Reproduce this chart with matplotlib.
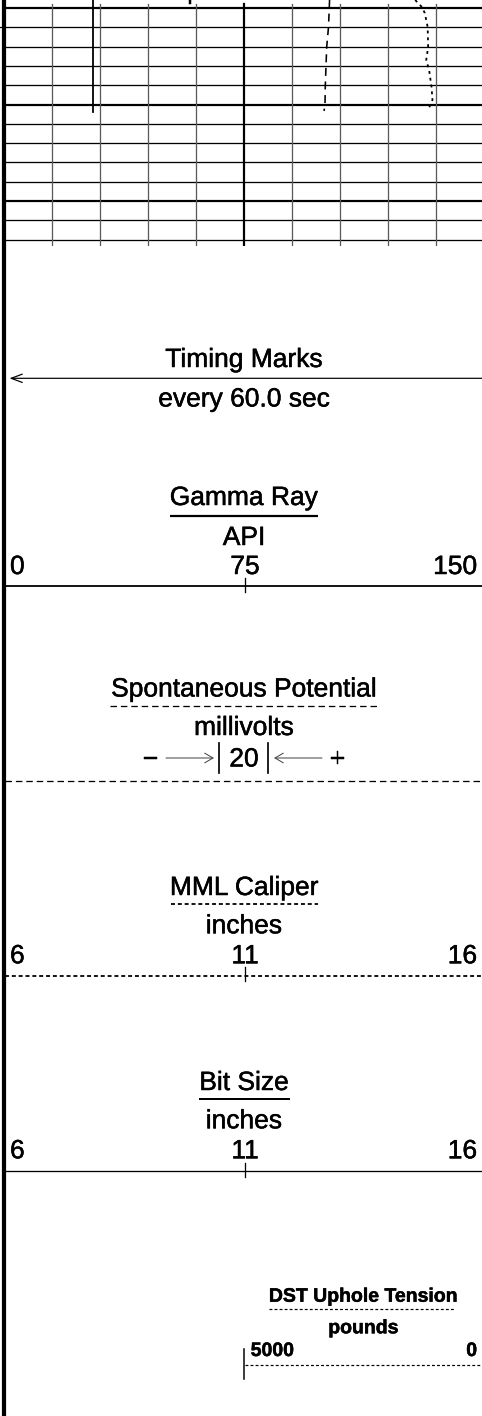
import matplotlib
matplotlib.use("Agg")
import matplotlib.pyplot as plt
import matplotlib.patheffects as pe

W, H = 482, 1416
FONT = ["Liberation Sans", "DejaVu Sans"]

# ---------------- data ----------------
# depth grid (ft): lines every 2 ft, heavy every 10 ft
grid_lines_depth = [3300, 3302, 3304, 3306, 3308, 3310, 3312, 3314, 3316, 3318, 3320, 3322, 3324]
grid_major_depth = [3300, 3310, 3320]
grid_vlines_api = [15, 30, 45, 60, 90, 105, 120, 135]
grid_center_api = [75]

# curves
gr_depth = [3299.17, 3305.0, 3310.75]
gr_api = [27.8, 27.8, 27.8]
sp_depth = [3299.17, 3301.97, 3304.04, 3306.11, 3308.19, 3309.95, 3310.67]
sp_mv = [35.6, 35.15, 34.4, 34.1, 33.8, 33.7, 33.3]
cal_depth = [3299.17, 3299.9, 3300.52, 3301.97, 3304.04, 3305.39, 3306.42, 3308.19, 3309.53, 3310.57]
cal_in = [14.56, 14.70, 14.76, 14.82, 14.83, 14.79, 14.85, 14.90, 14.92, 14.83]
bit_depth = [3299.17, 3299.45]
bit_in = [9.875, 9.875]

# scales
gr_scale = (0, 150)
sp_scale = (-100, 100)
cal_scale = (6, 16)
depth_range = (3324.663, 3299.171)

# header labels
timing_title = "Timing Marks"
timing_sub = "every 60.0 sec"
gr_title, gr_unit, gr_labels = "Gamma Ray", "API", ["0", "75", "150"]
sp_title, sp_unit, sp_div = "Spontaneous Potential", "millivolts", "20"
cal_title, cal_unit, cal_labels = "MML Caliper", "inches", ["6", "11", "16"]
bit_title, bit_unit, bit_labels = "Bit Size", "inches", ["6", "11", "16"]
dst_title, dst_unit, dst_labels = "DST Uphole Tension", "pounds", ["5000", "0"]

# ---------------- figure ----------------
fig = plt.figure(figsize=(W / 100, H / 100), dpi=100)
fig.patch.set_facecolor("white")

def px(v):
    return v * 0.72

# track axes (grid region at top)
track_left, track_w, track_h = 3.6, 480.8, 246
pos = [track_left / W, 1 - track_h / H, track_w / W, track_h / H]
ax = fig.add_axes(pos)
ax.set_xlim(*gr_scale)
ax.set_ylim(*depth_range)
ax.axis("off")
for d in grid_lines_depth:
    lw = px(2.2) if d in grid_major_depth else px(1.3)
    ax.plot([gr_scale[0], gr_scale[1]], [d, d], color="black", lw=lw, solid_capstyle="butt")
for a in grid_vlines_api:
    ax.plot([a, a], [3299.58, depth_range[0]], color="#5a5a5a", lw=px(1.3))
for a in grid_center_api:
    ax.plot([a, a], [3299.58, depth_range[0]], color="black", lw=px(2.2))
ax.plot(gr_api, gr_depth, color="black", lw=px(1.8))

ax_sp = fig.add_axes(pos)
ax_sp.set_xlim(*sp_scale)
ax_sp.set_ylim(*depth_range)
ax_sp.axis("off")
ax_sp.patch.set_alpha(0)
ax_sp.plot(sp_mv, sp_depth, color="black", lw=px(1.6), linestyle=(0, (5, 3.5)))

ax_cal = fig.add_axes(pos)
ax_cal.set_xlim(*cal_scale)
ax_cal.set_ylim(*depth_range)
ax_cal.axis("off")
ax_cal.patch.set_alpha(0)
ax_cal.plot(cal_in, cal_depth, color="black", lw=px(1.8), linestyle=(0, (1.6, 2.2)))
ax_cal.plot(bit_in, bit_depth, color="black", lw=px(2.5))

# header axes in pixel coordinates
axh = fig.add_axes([0, 0, 1, 1])
axh.set_xlim(0, W)
axh.set_ylim(H, 0)
axh.axis("off")
axh.patch.set_alpha(0)

# left border
axh.plot([3.6, 3.6], [0, H], color="black", lw=px(4.2), solid_capstyle="butt")
axh.plot([0, 4], [27.3, 27.3], color="black", lw=px(1.2))

FS = 19
CX = 244
STROKE = [pe.withStroke(linewidth=0.35, foreground="black")]

def ctext(x, y, s, size=FS, ha="center", weight="normal"):
    axh.text(x, y, s, ha=ha, va="baseline", fontsize=size, family=FONT,
             fontweight=weight, color="black", path_effects=STROKE)

# Timing marks
ctext(CX, 367, timing_title)
axh.annotate("", xy=(9.5, 378.3), xytext=(482, 378.3),
             arrowprops=dict(arrowstyle="->,head_length=0.8,head_width=0.3",
                             lw=px(1.2), color="black", shrinkA=0, shrinkB=0,
                             mutation_scale=10))
ctext(CX, 406.5, timing_sub)

# Gamma Ray
ctext(CX, 505, gr_title)
axh.plot([170, 318], [515.7, 515.7], color="black", lw=px(2.2), solid_capstyle="butt")
ctext(CX, 545, gr_unit)
ctext(10, 574, gr_labels[0], ha="left")
ctext(245, 574, gr_labels[1])
ctext(477, 574, gr_labels[2], ha="right")
axh.plot([5, 482], [586, 586], color="black", lw=px(1.8))
axh.plot([245, 245], [578, 592], color="black", lw=px(1.3))

# Spontaneous potential
ctext(CX, 696.5, sp_title)
axh.plot([110, 377], [706, 706], color="black", lw=px(1.3), linestyle=(0, (5, 3)))
ctext(CX, 735, sp_unit)
ctext(150.5, 766.5, "\u2212")
axh.annotate("", xy=(214, 758), xytext=(166, 758),
             arrowprops=dict(arrowstyle="->,head_length=0.6,head_width=0.35",
                             lw=px(1.0), color="#444444", shrinkA=0, shrinkB=0,
                             mutation_scale=10))
axh.plot([219, 219], [743, 773], color="black", lw=px(1.7))
ctext(244, 766.5, sp_div)
axh.plot([268, 268], [743, 773], color="black", lw=px(1.7))
axh.annotate("", xy=(274, 758), xytext=(322, 758),
             arrowprops=dict(arrowstyle="->,head_length=0.6,head_width=0.35",
                             lw=px(1.0), color="#444444", shrinkA=0, shrinkB=0,
                             mutation_scale=10))
ctext(337.5, 766.5, "+")
axh.plot([5, 482], [781, 781], color="black", lw=px(1.3), linestyle=(0, (5, 3)))

# MML Caliper
ctext(CX, 895, cal_title)
axh.plot([171, 318], [904, 904], color="black", lw=px(1.8), linestyle=(0, (2.2, 1.6)))
ctext(CX, 933.3, cal_unit)
ctext(10, 963.3, cal_labels[0], ha="left")
ctext(245, 963.3, cal_labels[1])
ctext(477, 963.3, cal_labels[2], ha="right")
axh.plot([5, 482], [976, 976], color="black", lw=px(1.8), linestyle=(0, (2.2, 1.6)))
axh.plot([245, 245], [967, 981], color="black", lw=px(1.3))

# Bit size
ctext(CX, 1090, bit_title)
axh.plot([199, 290], [1099, 1099], color="black", lw=px(2.0), solid_capstyle="butt")
ctext(CX, 1128.3, bit_unit)
ctext(10, 1158.3, bit_labels[0], ha="left")
ctext(245, 1158.3, bit_labels[1])
ctext(477, 1158.3, bit_labels[2], ha="right")
axh.plot([5, 482], [1171, 1171], color="black", lw=px(1.3))
axh.plot([245, 245], [1163, 1177], color="black", lw=px(1.3))

# DST Uphole Tension
DFS = 14
ctext(363.5, 1301.7, dst_title, size=DFS, weight="bold")
axh.plot([269, 455], [1309.3, 1309.3], color="black", lw=px(1.2), linestyle=(0, (2.4, 1.8)))
ctext(363.5, 1333.3, dst_unit, size=DFS, weight="bold")
ctext(250.7, 1356, dst_labels[0], size=DFS, ha="left", weight="bold")
ctext(477, 1356, dst_labels[1], size=DFS, ha="right", weight="bold")
axh.plot([245, 482], [1365, 1365], color="black", lw=px(1.2), linestyle=(0, (2.4, 1.8)))
axh.plot([243.7, 243.7], [1349, 1379], color="black", lw=px(1.5))

fig.savefig("out.png", dpi=100, facecolor="white")
